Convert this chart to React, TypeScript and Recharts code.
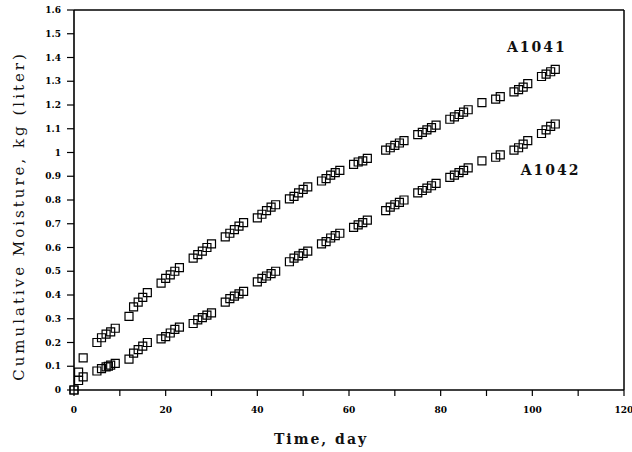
import React from 'react';
import { ScatterChart, Scatter, XAxis, YAxis, ZAxis, ReferenceLine, ReferenceDot } from 'recharts';

const a1041Days = [0, 1, 2, 5, 6, 7, 8, 9, 12, 13, 14, 15, 16, 19, 20, 21, 22, 23, 26, 27, 28, 29, 30, 33, 34, 35, 36, 37, 40, 41, 42, 43, 44, 47, 48, 49, 50, 51, 54, 55, 56, 57, 58, 61, 62, 63, 64, 68, 69, 70, 71, 72, 75, 76, 77, 78, 79, 82, 83, 84, 85, 86, 89, 92, 93, 96, 97, 98, 99, 102, 103, 104, 105];
const a1041Values = [0, 0.075, 0.135, 0.2, 0.22, 0.235, 0.245, 0.26, 0.31, 0.35, 0.37, 0.39, 0.41, 0.45, 0.47, 0.485, 0.5, 0.515, 0.555, 0.57, 0.585, 0.6, 0.615, 0.645, 0.66, 0.675, 0.69, 0.705, 0.725, 0.74, 0.755, 0.77, 0.78, 0.805, 0.815, 0.83, 0.845, 0.855, 0.88, 0.89, 0.905, 0.915, 0.925, 0.95, 0.96, 0.965, 0.975, 1.01, 1.02, 1.03, 1.04, 1.05, 1.075, 1.085, 1.095, 1.105, 1.115, 1.14, 1.15, 1.16, 1.17, 1.18, 1.21, 1.225, 1.235, 1.255, 1.265, 1.275, 1.29, 1.32, 1.33, 1.34, 1.35];

const a1042Days = [0, 1, 2, 5, 6, 7, 7.5, 8, 9, 12, 13, 14, 15, 16, 19, 20, 21, 22, 23, 26, 27, 28, 29, 30, 33, 34, 35, 36, 37, 40, 41, 42, 43, 44, 47, 48, 49, 50, 51, 54, 55, 56, 57, 58, 61, 62, 63, 64, 68, 69, 70, 71, 72, 75, 76, 77, 78, 79, 82, 83, 84, 85, 86, 89, 92, 93, 96, 97, 98, 99, 102, 103, 104, 105];
const a1042Values = [0, 0.04, 0.055, 0.08, 0.09, 0.097, 0.1, 0.105, 0.112, 0.13, 0.155, 0.17, 0.185, 0.2, 0.215, 0.225, 0.24, 0.255, 0.265, 0.28, 0.295, 0.305, 0.315, 0.325, 0.37, 0.385, 0.395, 0.405, 0.415, 0.455, 0.47, 0.48, 0.49, 0.5, 0.54, 0.555, 0.565, 0.575, 0.585, 0.615, 0.625, 0.64, 0.65, 0.66, 0.685, 0.695, 0.705, 0.715, 0.755, 0.77, 0.78, 0.79, 0.8, 0.83, 0.84, 0.85, 0.86, 0.87, 0.895, 0.905, 0.915, 0.925, 0.935, 0.965, 0.98, 0.99, 1.01, 1.02, 1.035, 1.05, 1.08, 1.095, 1.11, 1.12];

const xTicks = [0, 10, 20, 30, 40, 50, 60, 70, 80, 90, 100, 110, 120];
const yTicks = [0, 0.1, 0.2, 0.3, 0.4, 0.5, 0.6, 0.7, 0.8, 0.9, 1, 1.1, 1.2, 1.3, 1.4, 1.5, 1.6];
const seriesNames = ['A1041', 'A1042'];

const a1041 = a1041Days.map((d, i) => ({ day: d, value: a1041Values[i] }));
const a1042 = a1042Days.map((d, i) => ({ day: d, value: a1042Values[i] }));

const serif = '"DejaVu Serif", serif';
const tickStyle = { fontFamily: serif, fontSize: 9, fontWeight: 700, fill: '#000' };
const titleStyle = { fontFamily: serif, fontSize: 14, fontWeight: 700, fill: '#111', letterSpacing: 2 };

const YTitle = (props: any) => {
  const vb = props.viewBox || { x: 0, y: 0, width: 0, height: 0 };
  const cx = vb.x + 19;
  const cy = vb.y + vb.height / 2 + 16;
  return (
    <text x={cx} y={cy} transform={`rotate(-90 ${cx} ${cy})`} textAnchor="middle" dominantBaseline="central" style={{ ...titleStyle, fontSize: 15, fontWeight: 400, letterSpacing: 3 }}>
      Cumulative Moisture, kg (liter)
    </text>
  );
};

export default function App() {
  return (
    <div style={{ position: 'absolute', left: 0, top: 0, width: 632, height: 452, background: '#fff' }}>
      <ScatterChart width={632} height={452} margin={{ top: 10, right: 8, bottom: 0, left: 0 }}>
        <XAxis
          type="number"
          dataKey="day"
          domain={[0, 120]}
          ticks={xTicks}
          interval={0}
          tickFormatter={(v: number) => (v % 20 === 0 ? String(v) : '')}
          tick={tickStyle}
          tickSize={6}
          tickMargin={11}
          height={62}
          axisLine={{ stroke: '#000', strokeWidth: 1.6 }}
          tickLine={{ stroke: '#000', strokeWidth: 1.2 }}
          label={{ value: 'Time, day', position: 'insideBottom', offset: 8, dx: -28, style: titleStyle }}
        />
        <YAxis
          type="number"
          dataKey="value"
          domain={[0, 1.6]}
          ticks={yTicks}
          interval={0}
          tickFormatter={(v: number) => String(Math.round(v * 10) / 10)}
          tick={tickStyle}
          tickSize={7}
          tickMargin={6}
          width={74}
          axisLine={{ stroke: '#000', strokeWidth: 1.6 }}
          tickLine={{ stroke: '#000', strokeWidth: 1.2 }}
          label={{ content: YTitle }}
        />
        <ZAxis range={[40, 40]} />
        <ReferenceLine y={1.6} stroke="#000" strokeWidth={1.5} />
        <ReferenceLine x={120} stroke="#000" strokeWidth={1.5} />
        <Scatter name={seriesNames[0]} data={a1041} shape="square" fill="none" stroke="#000" strokeWidth={1.2} isAnimationActive={false} />
        <Scatter name={seriesNames[1]} data={a1042} shape="square" fill="none" stroke="#000" strokeWidth={1.2} isAnimationActive={false} />
        <ReferenceDot x={101} y={1.445} r={0} fill="none" stroke="none" label={{ value: seriesNames[0], position: 'center', style: titleStyle }} />
        <ReferenceDot x={104} y={0.925} r={0} fill="none" stroke="none" label={{ value: seriesNames[1], position: 'center', style: titleStyle }} />
      </ScatterChart>
    </div>
  );
}
